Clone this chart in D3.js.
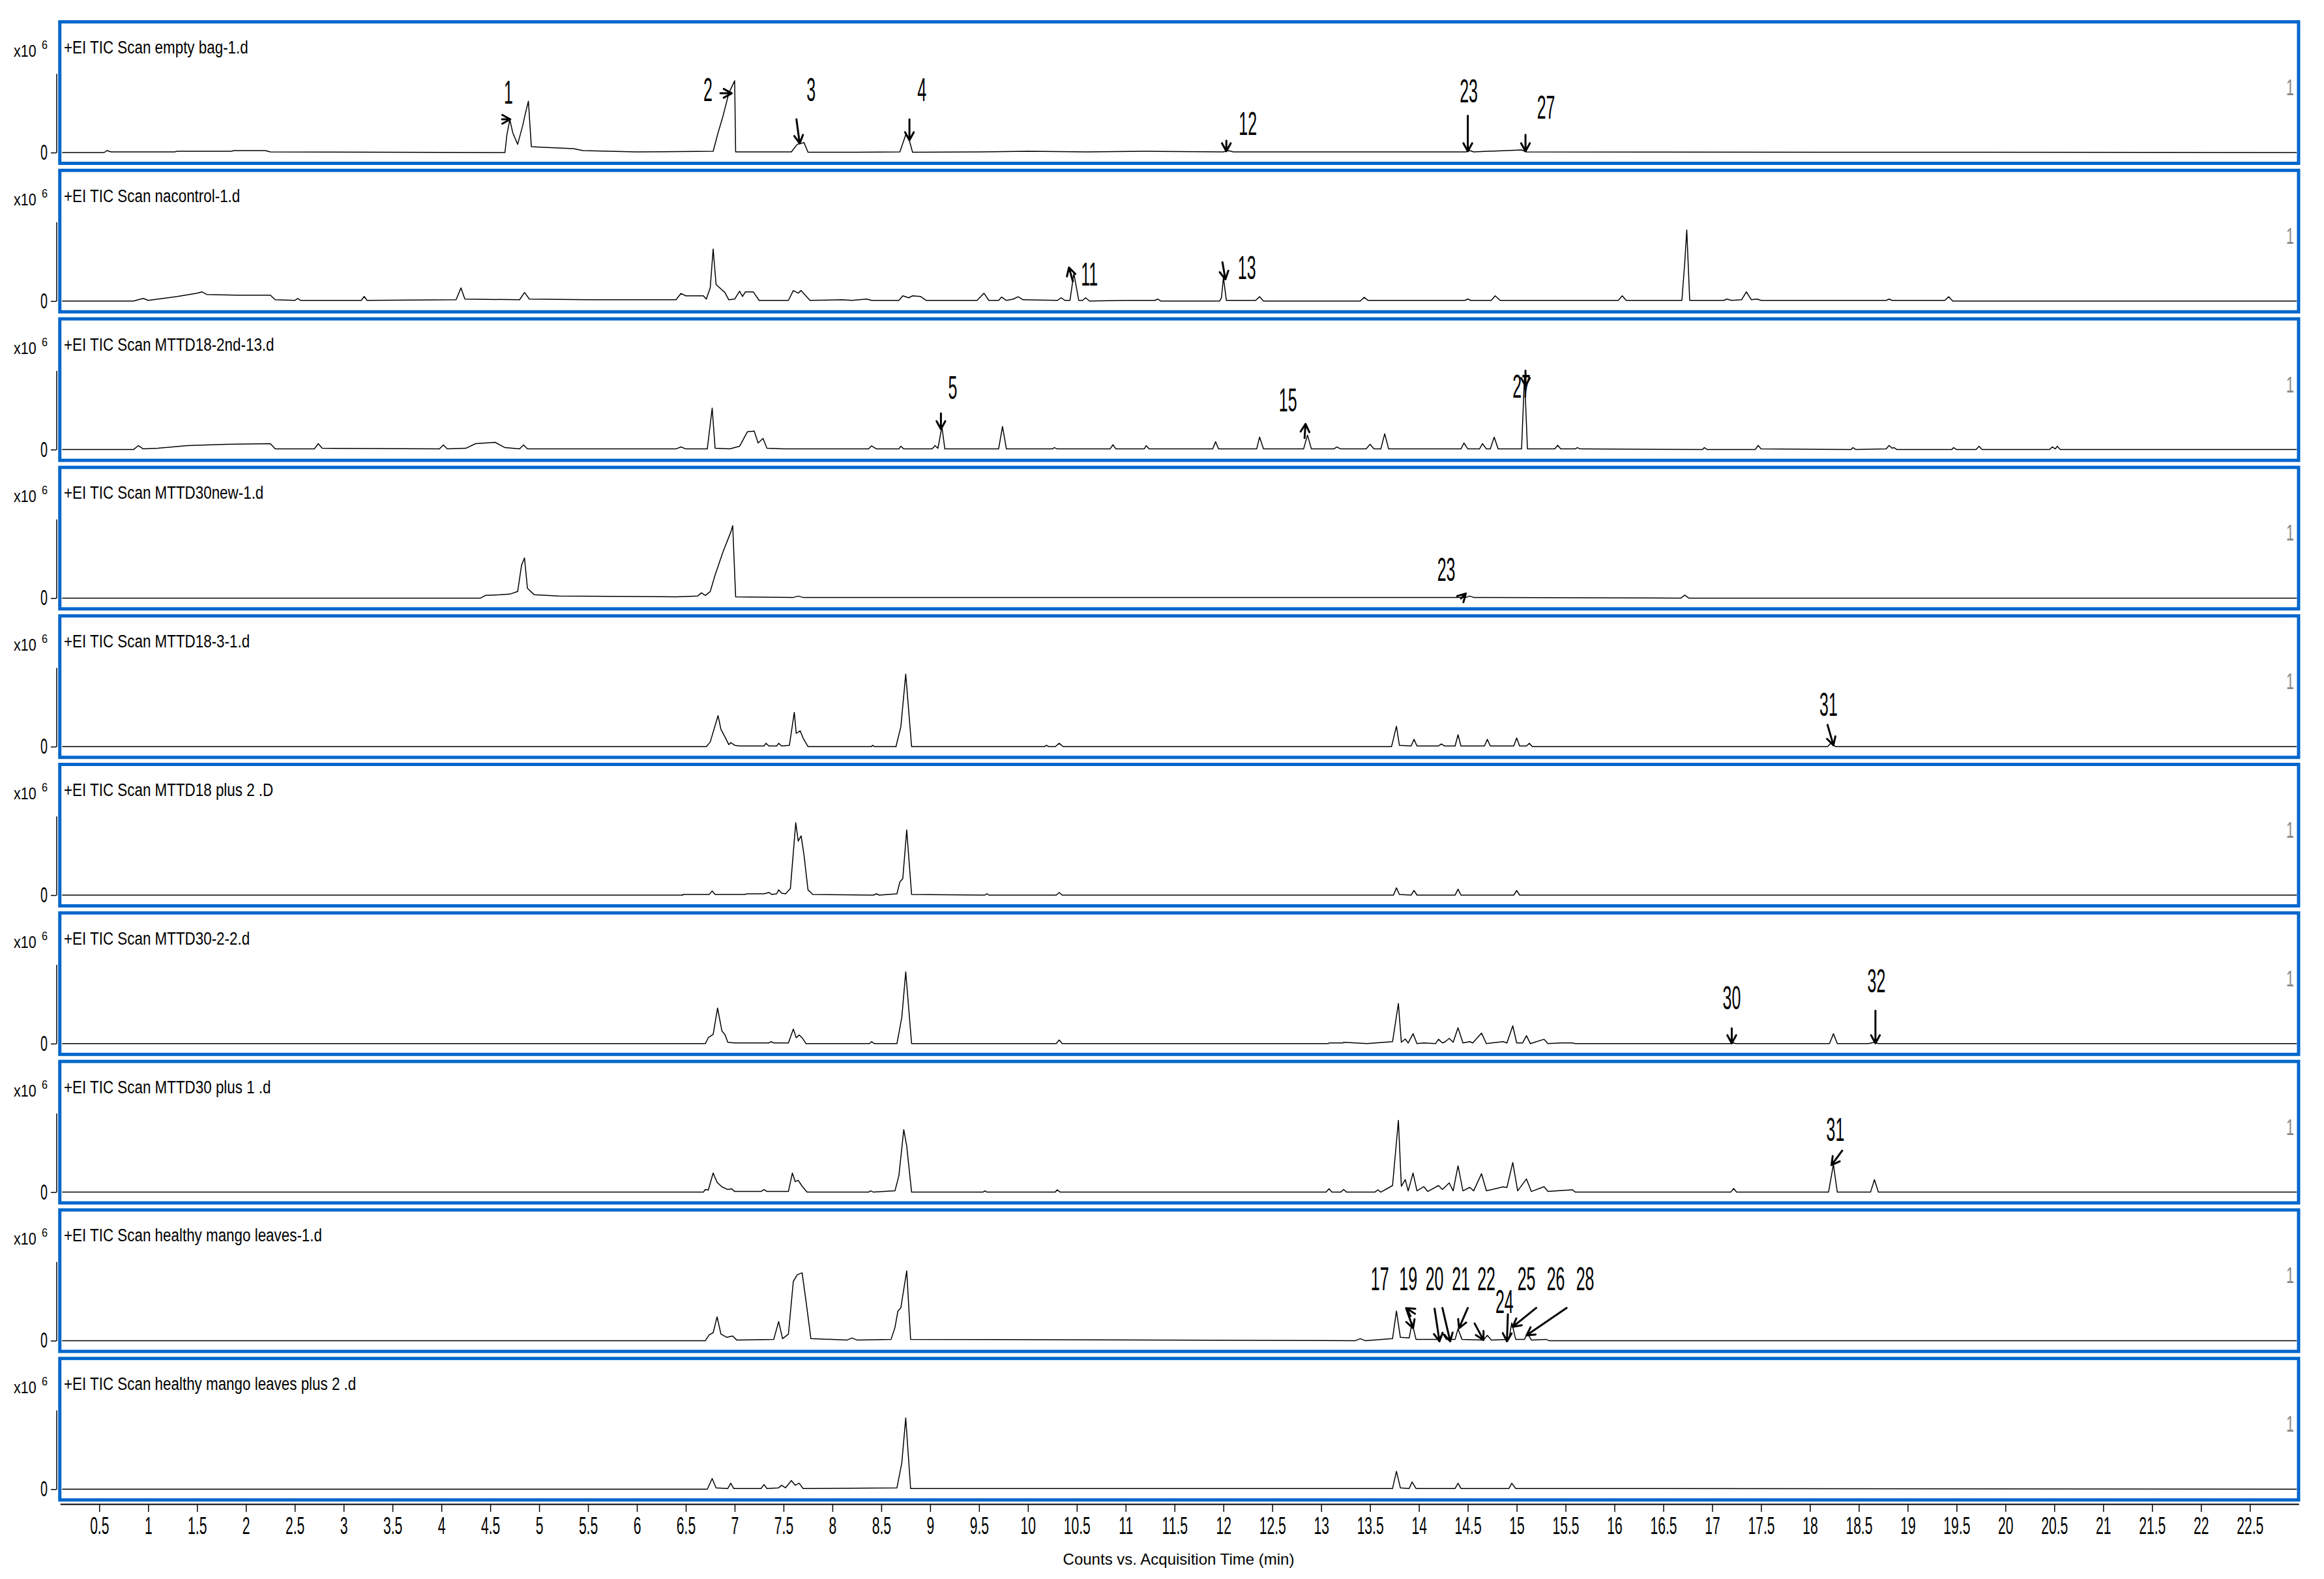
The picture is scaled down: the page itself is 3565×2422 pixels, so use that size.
<!DOCTYPE html>
<html>
<head>
<meta charset="utf-8">
<script src="https://cdn.jsdelivr.net/npm/d3@7"></script>
<style>
  html, body { margin: 0; padding: 0; background: #fff; }
  svg { display: block; font-family: "Liberation Sans", Arial, sans-serif; }
</style>
</head>
<body>
<svg id="chart" width="3565" height="2422"></svg>
<script>
// sample file names, one per stacked panel
const sampleNames = [
    "empty bag-1.d", "nacontrol-1.d", "MTTD18-2nd-13.d", "MTTD30new-1.d", "MTTD18-3-1.d",
    "MTTD18 plus 2 .D", "MTTD30-2-2.d", "MTTD30 plus 1 .d", "healthy mango leaves-1.d",
    "healthy mango leaves plus 2 .d"
];

// TIC traces: [time (min), counts x10^6]
const emptyBag = [[0.12,0],[0.55,0],[0.58,0.03],[0.62,0.01],[1.27,0.01],[1.3,0.02],[1.85,0.02],[1.88,0.03],[2.2,0.03],[2.25,0.01],[4.65,0],[4.67,0.27],[4.7,0.5],[4.73,0.3],[4.78,0.125],[4.83,0.4],[4.86,0.6],[4.89,0.78],[4.92,0.09],[5.05,0.08],[5.35,0.06],[5.45,0.03],[5.99,0.01],[6.78,0.02],[6.83,0.3],[6.88,0.55],[6.94,0.9],[7.0,1.09],[7.01,0.01],[7.2,0.01],[7.58,0.01],[7.64,0.125],[7.71,0.15],[7.75,0.005],[8.25,0.005],[8.69,0.01],[8.75,0.27],[8.78,0.22],[8.82,0.005],[9.5,0.01],[10.0,0.02],[10.6,0.01],[11.2,0.02],[12.0,0.01],[12.05,0.03],[12.1,0.01],[14.48,0.01],[14.52,0.03],[14.56,0.01],[15.05,0.04],[15.1,0.01],[22.98,0]];
const naControl = [[0.12,0],[0.85,0],[0.95,0.04],[1.0,0.01],[1.1,0.03],[1.3,0.07],[1.5,0.12],[1.55,0.14],[1.6,0.1],[1.9,0.09],[2.25,0.09],[2.3,0.02],[2.5,0.01],[2.53,0.04],[2.56,0.01],[3.18,0.01],[3.21,0.07],[3.24,0.01],[4.15,0.02],[4.2,0.2],[4.24,0.03],[4.8,0.02],[4.85,0.13],[4.9,0.03],[5.5,0.02],[6.4,0.02],[6.45,0.115],[6.5,0.08],[6.68,0.08],[6.71,0.03],[6.75,0.2],[6.78,0.79],[6.81,0.25],[6.9,0.13],[6.94,0.02],[7.0,0.03],[7.05,0.15],[7.08,0.07],[7.11,0.14],[7.19,0.14],[7.25,0.01],[7.55,0.01],[7.6,0.16],[7.65,0.12],[7.68,0.16],[7.77,0.01],[8.1,0.02],[8.2,0.01],[8.35,0.03],[8.4,0.01],[8.68,0.01],[8.72,0.08],[8.78,0.05],[8.82,0.08],[8.9,0.07],[8.96,0.01],[9.48,0.01],[9.55,0.12],[9.6,0.01],[9.7,0.01],[9.73,0.06],[9.78,0.01],[9.85,0.03],[9.9,0.066],[9.95,0.02],[10.3,0.01],[10.34,0.05],[10.38,0.01],[10.43,0.01],[10.47,0.42],[10.52,0.01],[10.56,0.01],[10.59,0.05],[10.63,0],[11.0,0.01],[11.3,0.01],[11.33,0.03],[11.36,0],[11.96,0],[11.98,0.05],[12.0,0.36],[12.03,0.01],[12.33,0.01],[12.37,0.066],[12.41,0],[13.4,0],[13.44,0.056],[13.48,0.01],[14.47,0.01],[14.5,0.03],[14.53,0.01],[14.74,0.01],[14.78,0.08],[14.83,0.01],[16.04,0.01],[16.08,0.08],[16.12,0.01],[16.69,0.01],[16.72,0.6],[16.74,1.08],[16.77,0.01],[17.12,0.01],[17.15,0.03],[17.2,0.01],[17.3,0.02],[17.35,0.14],[17.4,0.02],[17.46,0.03],[17.5,0.01],[18.78,0.01],[18.81,0.03],[18.84,0.01],[19.38,0.01],[19.42,0.066],[19.46,0],[22.98,0]];
const mttd18Second = [[0.12,0],[0.85,0],[0.9,0.06],[0.95,0.01],[1.1,0.02],[1.4,0.06],[1.8,0.08],[2.25,0.09],[2.3,0.01],[2.7,0.01],[2.74,0.09],[2.78,0.02],[3.98,0.01],[4.02,0.07],[4.06,0.01],[4.25,0.02],[4.35,0.09],[4.55,0.11],[4.65,0.03],[4.8,0.01],[4.84,0.07],[4.88,0.01],[6.4,0.01],[6.45,0.04],[6.5,0.01],[6.72,0.01],[6.77,0.63],[6.8,0.02],[6.95,0.01],[7.05,0.05],[7.13,0.27],[7.2,0.28],[7.24,0.1],[7.29,0.17],[7.33,0.02],[7.5,0.01],[8.37,0.01],[8.4,0.056],[8.45,0.01],[8.68,0.01],[8.7,0.05],[8.73,0.01],[9.02,0.01],[9.05,0.06],[9.08,0.02],[9.12,0.35],[9.15,0.01],[9.7,0.01],[9.74,0.35],[9.78,0.01],[10.25,0.01],[10.27,0.03],[10.3,0.01],[10.84,0.01],[10.87,0.073],[10.9,0.01],[11.19,0.01],[11.21,0.06],[11.24,0.01],[11.89,0.01],[11.92,0.12],[11.95,0.01],[12.34,0.01],[12.37,0.19],[12.41,0.01],[12.82,0.01],[12.86,0.22],[12.9,0.01],[13.13,0.01],[13.16,0.04],[13.2,0.01],[13.46,0.01],[13.5,0.08],[13.54,0.01],[13.61,0.01],[13.65,0.24],[13.69,0.01],[14.43,0.01],[14.46,0.1],[14.5,0.01],[14.62,0.01],[14.65,0.09],[14.69,0.01],[14.73,0.01],[14.77,0.19],[14.81,0.01],[15.05,0.01],[15.08,1.12],[15.11,0.01],[15.39,0.01],[15.42,0.066],[15.45,0.01],[15.6,0.01],[15.62,0.03],[15.65,0.01],[16.9,0],[16.92,0.03],[16.95,0],[17.44,0],[17.47,0.063],[17.5,0.01],[18.42,0],[18.44,0.03],[18.47,0],[18.78,0.01],[18.81,0.063],[18.84,0.02],[18.86,0.03],[18.89,0],[19.45,0],[19.47,0.03],[19.5,0],[19.7,0],[19.73,0.05],[19.76,0],[20.45,0],[20.48,0.04],[20.51,0.01],[20.53,0.05],[20.56,0],[22.98,0]];
const mttd30New = [[0.12,0],[4.4,0],[4.45,0.04],[4.6,0.05],[4.7,0.06],[4.78,0.1],[4.82,0.5],[4.85,0.61],[4.88,0.15],[4.95,0.05],[5.2,0.03],[6.4,0.02],[6.62,0.03],[6.66,0.08],[6.7,0.04],[6.75,0.1],[6.8,0.35],[6.88,0.7],[6.96,1.0],[6.98,1.1],[7.01,0.02],[7.6,0.01],[7.65,0.03],[7.7,0.01],[14.48,0.01],[14.52,0.03],[14.56,0.01],[16.68,0],[16.72,0.045],[16.76,0],[22.98,0]];
const mttd18Three = [[0.12,0],[6.71,0],[6.75,0.07],[6.83,0.47],[6.86,0.26],[6.9,0.15],[6.94,0.03],[6.96,0.06],[7.0,0.02],[7.05,0.01],[7.3,0.01],[7.32,0.05],[7.35,0.01],[7.43,0.01],[7.45,0.05],[7.48,0.01],[7.56,0.02],[7.61,0.52],[7.63,0.2],[7.67,0.24],[7.7,0.13],[7.75,0],[8.4,0],[8.41,0.02],[8.43,0],[8.65,0],[8.7,0.3],[8.75,1.1],[8.81,0],[10.17,0],[10.19,0.02],[10.21,0],[10.28,0],[10.32,0.05],[10.36,0],[13.72,0],[13.77,0.31],[13.8,0.02],[13.92,0.01],[13.95,0.11],[13.98,0.01],[14.2,0.01],[14.23,0.04],[14.26,0.01],[14.37,0.01],[14.4,0.18],[14.43,0.01],[14.67,0.01],[14.7,0.11],[14.73,0.01],[14.97,0.01],[15.0,0.13],[15.03,0.01],[15.1,0.01],[15.13,0.05],[15.16,0],[18.18,0],[18.22,0.06],[18.26,0],[22.98,0]];
const mttd18Plus2 = [[0.12,0],[6.47,0],[6.47,0.01],[6.74,0.01],[6.77,0.063],[6.8,0.01],[7.1,0.01],[7.13,0.02],[7.3,0.02],[7.35,0.04],[7.38,0.01],[7.43,0.02],[7.45,0.08],[7.48,0.03],[7.52,0.02],[7.57,0.1],[7.625,1.1],[7.65,0.82],[7.68,0.9],[7.71,0.6],[7.75,0.08],[7.8,0.01],[8.42,0],[8.45,0.02],[8.48,0],[8.66,0.02],[8.69,0.2],[8.72,0.25],[8.76,0.99],[8.81,0.01],[9.56,0],[9.58,0.02],[9.6,0],[10.29,0],[10.32,0.04],[10.35,0],[13.74,0],[13.77,0.11],[13.8,0.01],[13.92,0],[13.95,0.07],[13.98,0],[14.37,0],[14.4,0.09],[14.43,0],[14.97,0],[15.0,0.07],[15.03,0],[22.98,0]];
const mttd30Two = [[0.12,0],[6.7,0],[6.73,0.09],[6.78,0.14],[6.825,0.54],[6.87,0.19],[6.9,0.14],[6.93,0.02],[7.0,0.01],[7.35,0.01],[7.37,0.03],[7.4,0.01],[7.55,0.01],[7.6,0.22],[7.63,0.09],[7.66,0.13],[7.69,0.09],[7.73,0],[8.38,0],[8.4,0.03],[8.43,0],[8.66,0],[8.69,0.24],[8.71,0.4],[8.75,1.09],[8.81,0],[10.29,0],[10.32,0.056],[10.35,0],[13.07,0],[13.08,0.01],[13.22,0.01],[13.23,0.02],[13.47,0],[13.73,0.03],[13.79,0.61],[13.82,0.02],[13.86,0.07],[13.89,0.01],[13.94,0.15],[13.98,0],[14.05,0.01],[14.17,0],[14.2,0.066],[14.24,0.01],[14.27,0.03],[14.31,0.08],[14.35,0.02],[14.4,0.24],[14.45,0.01],[14.52,0.03],[14.55,0.01],[14.64,0.16],[14.69,0],[14.86,0.03],[14.9,0.01],[14.96,0.27],[15.0,0.01],[15.06,0.01],[15.1,0.12],[15.14,0],[15.28,0.066],[15.32,0],[15.45,0.01],[15.57,0.01],[15.6,0],[17.2,0],[17.22,0.01],[17.24,0],[18.2,0],[18.24,0.15],[18.28,0],[18.6,0],[18.66,0.02],[18.7,0],[22.98,0]];
const mttd30Plus1 = [[0.12,0],[6.68,0],[6.7,0.04],[6.73,0.03],[6.78,0.29],[6.82,0.15],[6.87,0.08],[6.93,0.04],[6.97,0.05],[7.0,0.01],[7.27,0.01],[7.3,0.04],[7.33,0.01],[7.55,0.01],[7.59,0.29],[7.62,0.16],[7.65,0.18],[7.69,0.09],[7.74,0],[8.37,0],[8.39,0.02],[8.42,0],[8.64,0.02],[8.68,0.25],[8.73,0.95],[8.76,0.7],[8.81,0],[9.54,0],[9.56,0.02],[9.58,0],[10.28,0],[10.3,0.036],[10.33,0],[13.05,0],[13.08,0.05],[13.11,0],[13.2,0],[13.23,0.04],[13.26,0],[13.55,0],[13.58,0.036],[13.61,0],[13.73,0.1],[13.79,1.09],[13.82,0.09],[13.86,0.19],[13.89,0.02],[13.94,0.29],[13.98,0.02],[14.05,0.083],[14.09,0.01],[14.2,0.1],[14.24,0.04],[14.31,0.14],[14.35,0.02],[14.4,0.4],[14.45,0.02],[14.52,0.073],[14.56,0.02],[14.64,0.28],[14.69,0.02],[14.86,0.08],[14.9,0.07],[14.96,0.45],[15.01,0.02],[15.1,0.2],[15.15,0.01],[15.28,0.083],[15.32,0.01],[15.57,0.036],[15.6,0],[17.19,0],[17.22,0.056],[17.25,0],[18.19,0],[18.24,0.42],[18.28,0],[18.62,0],[18.66,0.19],[18.7,0],[22.98,0]];
const mangoLeaves = [[0.12,0],[6.7,0],[6.74,0.09],[6.78,0.12],[6.82,0.36],[6.86,0.1],[6.92,0.05],[6.98,0.07],[7.02,0.01],[7.4,0.02],[7.45,0.29],[7.49,0.03],[7.55,0.1],[7.6,0.9],[7.64,1.0],[7.69,1.03],[7.73,0.6],[7.78,0.03],[8.15,0.01],[8.2,0.04],[8.25,0.01],[8.6,0.02],[8.64,0.2],[8.67,0.45],[8.7,0.5],[8.76,1.06],[8.8,0.02],[13.35,0],[13.4,0.03],[13.45,0],[13.73,0.03],[13.77,0.45],[13.81,0.05],[13.9,0.04],[13.93,0.27],[13.97,0.02],[14.2,0.02],[14.24,0.11],[14.28,0.02],[14.37,0.02],[14.4,0.18],[14.44,0.02],[14.66,0.01],[14.7,0.08],[14.74,0.01],[14.92,0.02],[14.95,0.27],[14.99,0.02],[15.08,0.02],[15.11,0.11],[15.15,0.01],[15.3,0.02],[15.33,0],[22.98,0]];
const mangoLeavesPlus2 = [[0.12,0],[6.72,0],[6.77,0.16],[6.81,0.02],[6.93,0.01],[6.96,0.09],[6.99,0.01],[7.27,0.01],[7.3,0.07],[7.33,0.01],[7.45,0.02],[7.48,0.06],[7.52,0.02],[7.58,0.13],[7.62,0.06],[7.66,0.09],[7.7,0.01],[8.66,0.02],[8.71,0.4],[8.75,1.08],[8.8,0.01],[13.73,0.01],[13.77,0.27],[13.81,0.02],[13.9,0.01],[13.93,0.11],[13.97,0.01],[14.37,0.01],[14.4,0.09],[14.43,0.01],[14.92,0.01],[14.95,0.09],[14.99,0.01],[22.98,0]];
const traces = [emptyBag, naControl, mttd18Second, mttd30New, mttd18Three,
    mttd18Plus2, mttd30Two, mttd30Plus1, mangoLeaves, mangoLeavesPlus2];

// peak numbers: panel, text, position (time, counts)
const peakLabels = [
    [0, "1", 4.686, 0.92], [0, "2", 6.727, 0.96], [0, "3", 7.781, 0.96], [0, "4", 8.915, 0.96],
    [0, "12", 12.25, 0.45], [0, "23", 14.51, 0.94], [0, "27", 15.30, 0.69],
    [1, "11", 10.63, 0.41], [1, "13", 12.24, 0.51],
    [2, "5", 9.23, 0.945], [2, "15", 12.66, 0.76], [2, "27", 15.05, 0.965],
    [3, "23", 14.28, 0.44],
    [4, "31", 18.19, 0.645],
    [6, "30", 17.20, 0.70], [6, "32", 18.68, 0.956],
    [7, "31", 18.26, 0.96],
    [8, "17", 13.60, 0.943], [8, "19", 13.89, 0.943], [8, "20", 14.16, 0.943], [8, "21", 14.43, 0.943],
    [8, "22", 14.69, 0.943], [8, "24", 14.875, 0.60], [8, "25", 15.10, 0.943], [8, "26", 15.40, 0.943],
    [8, "28", 15.70, 0.943]
];
// pointer arrows: panel, tail (time, counts), head (time, counts)
const peakArrows = [
    [0, 4.62, 0.505, 4.705, 0.505], [0, 6.854, 0.9, 6.97, 0.9], [0, 7.632, 0.505, 7.665, 0.139],
    [0, 8.788, 0.505, 8.788, 0.188], [0, 12.03, 0.18, 12.03, 0.02], [0, 14.5, 0.56, 14.5, 0.02],
    [0, 15.09, 0.27, 15.09, 0.02],
    [1, 10.46, 0.30, 10.42, 0.51], [1, 11.99, 0.59, 12.02, 0.33],
    [2, 9.11, 0.55, 9.11, 0.31], [2, 12.83, 0.175, 12.84, 0.39], [2, 15.09, 1.2, 15.09, 0.965],
    [3, 14.43, -0.006, 14.48, 0.07],
    [4, 18.18, 0.33, 18.24, 0.02],
    [6, 17.2, 0.234, 17.2, 0.006], [6, 18.67, 0.5, 18.67, 0.006],
    [7, 18.33, 0.63, 18.22, 0.41],
    [8, 13.96, 0.408, 13.87, 0.495], [8, 13.87, 0.487, 13.94, 0.19], [8, 14.16, 0.487, 14.21, -0.01],
    [8, 14.24, 0.497, 14.32, -0.01], [8, 14.50, 0.497, 14.41, 0.19], [8, 14.57, 0.26, 14.66, 0.01],
    [8, 14.91, 0.40, 14.90, -0.01], [8, 15.20, 0.497, 14.96, 0.21], [8, 15.51, 0.497, 15.10, 0.08]
];
const xTicks = d3.range(1, 46).map(d => d / 2);

const blue = "#0066cc";
const panelTop0 = 31, panelPitch = 227.8, panelH = 222;

const svg = d3.select("#chart");
const x = d3.scaleLinear().domain([0.1, 23]).range([92.3, 3526.2]);
const y = d3.scaleLinear().domain([0, 1.2]).range([203, 81.8]);
const line = d3.line().x(d => x(d[0])).y(d => y(d[1]));

// text squeezed horizontally like the narrow instrument font
function narrowText(g, tx, ty, str, size, sx, anchor) {
    return g.append("text")
        .attr("transform", `translate(${tx},${ty}) scale(${sx},1)`)
        .attr("text-anchor", anchor || "start")
        .style("font-size", size + "px")
        .text(str);
}

function arrow(g, x1, y1, x2, y2) {
    const a = Math.atan2(y2 - y1, x2 - x1), len = 14, spread = 0.5;
    const w1 = [x2 - len * Math.cos(a - spread), y2 - len * Math.sin(a - spread)];
    const w2 = [x2 - len * Math.cos(a + spread), y2 - len * Math.sin(a + spread)];
    g.append("path")
        .attr("d", `M${x1},${y1}L${x2},${y2}M${w1[0]},${w1[1]}L${x2},${y2}L${w2[0]},${w2[1]}`)
        .attr("fill", "none").attr("stroke", "#000").attr("stroke-width", 3)
        .attr("stroke-linecap", "round").attr("stroke-linejoin", "round");
}

svg.append("defs").append("clipPath").attr("id", "inner")
    .append("rect").attr("x", 94.5).attr("y", 5).attr("width", 3429).attr("height", 212);

sampleNames.forEach((name, i) => {
    const g = svg.append("g").attr("transform", `translate(0,${panelTop0 + i * panelPitch})`);

    g.append("path").datum(traces[i])
        .attr("clip-path", "url(#inner)")
        .attr("d", line)
        .attr("fill", "none").attr("stroke", "#000").attr("stroke-width", 1.5)
        .attr("stroke-linejoin", "round");

    g.append("rect")
        .attr("x", 91.75).attr("y", 2.5).attr("width", 3434.25).attr("height", panelH - 5)
        .attr("fill", "none").attr("stroke", blue).attr("stroke-width", 5);

    // left count axis
    const ya = g.append("g").attr("transform", "translate(86.5,0)")
        .call(d3.axisLeft(y).tickValues([0]).tickFormat(d3.format("d"))
            .tickSize(8.5).tickSizeOuter(0).tickPadding(5));
    ya.select(".domain").attr("stroke-width", 1.5);
    ya.selectAll(".tick line").attr("stroke-width", 1.5);
    ya.selectAll(".tick text")
        .attr("x", -13.5 / 0.6).attr("transform", "scale(0.6,1)")
        .style("font-size", "33px").style("font-family", "Liberation Sans, Arial, sans-serif");

    narrowText(g, 21, 56, "x10", 25, 0.86);
    narrowText(g, 64, 44, "6", 18, 0.9);
    narrowText(g, 98, 51, "+EI TIC Scan " + name, 28, 0.8);
    narrowText(g, 3519, y(1) + 13, "1", 36, 0.6, "end").attr("fill", "#888");

    peakLabels.filter(p => p[0] === i).forEach(p => {
        narrowText(g, x(p[2]), y(p[3]) + 18, p[1], 50, 0.5, "middle");
    });
    peakArrows.filter(p => p[0] === i).forEach(p => {
        arrow(g, x(p[1]), y(p[2]), x(p[3]), y(p[4]));
    });
});

// shared time axis
const xa = svg.append("g").attr("transform", "translate(0,2307)")
    .call(d3.axisBottom(x).tickValues(xTicks).tickSize(12).tickSizeOuter(0).tickPadding(8)
        .tickFormat(d => d % 1 ? d.toFixed(1) : d3.format("d")(d)));
xa.select(".domain").attr("stroke-width", 2);
xa.selectAll(".tick line").attr("stroke-width", 1.5);
xa.selectAll(".tick text").attr("transform", "scale(0.57,1)")
    .style("font-size", "37px").style("font-family", "Liberation Sans, Arial, sans-serif");

svg.append("text")
    .attr("x", 1808).attr("y", 2400).attr("text-anchor", "middle")
    .style("font-size", "24px")
    .text("Counts vs. Acquisition Time (min)");
</script>
</body>
</html>
